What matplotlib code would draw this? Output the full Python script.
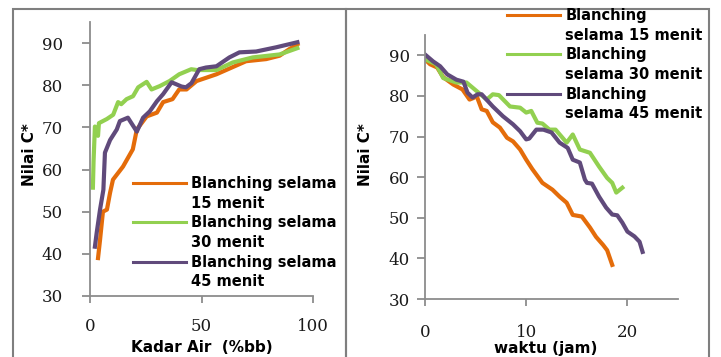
import matplotlib
matplotlib.use("Agg")
import matplotlib.pyplot as plt
from matplotlib.lines import Line2D
from matplotlib.patches import Rectangle

# ---- data: colour value C* against moisture content (%bb) ----
air_15 = [3.6, 4.5, 5.8, 7.6, 9.0, 10.3, 14.8, 19.2, 21.0, 25.4, 30.0, 32.8, 37.0, 40.0, 43.3,
          47.8, 56.7, 64.0, 70.0, 79.0, 85.0, 89.5, 93.0]
c_air_15 = [39.0, 43.3, 50.0, 50.5, 54.5, 57.6, 60.7, 64.8, 69.5, 72.6, 73.5, 76.0, 76.7, 79.0, 79.0,
            81.0, 82.6, 84.3, 85.7, 86.2, 87.0, 88.6, 89.7]

air_30 = [1.3, 1.6, 2.2, 3.6, 4.0, 7.6, 10.4, 12.6, 14.0, 16.4, 19.3, 21.6, 25.4, 27.6, 31.3,
          35.7, 40.0, 45.4, 48.0, 56.7, 64.0, 73.0, 85.0, 93.0]
c_air_30 = [55.7, 62.0, 70.2, 68.0, 71.0, 72.0, 73.0, 76.0, 75.5, 76.7, 77.4, 79.5, 80.8, 79.0, 79.8,
            81.0, 82.6, 83.8, 83.6, 83.6, 85.4, 86.6, 87.3, 88.8]

air_45 = [2.2, 3.0, 4.5, 6.0, 6.7, 9.0, 12.0, 13.4, 17.0, 21.0, 23.8, 26.8, 30.0, 32.8, 36.6,
          41.0, 43.0, 45.5, 49.0, 52.0, 56.7, 62.5, 67.0, 74.5, 83.5, 93.0]
c_air_45 = [41.7, 45.0, 50.5, 55.2, 64.0, 67.0, 69.5, 71.5, 72.3, 69.0, 72.3, 73.8, 76.2, 77.9, 80.7,
            79.7, 79.5, 80.5, 83.8, 84.2, 84.5, 86.6, 87.8, 88.0, 89.0, 90.2]

# ---- data: colour value C* against drying time (jam) ----
t_15 = [0.0, 0.5, 1.2, 1.8, 2.8, 3.7, 4.4, 4.8, 5.1, 5.6, 6.1, 6.7, 7.4, 8.1, 8.7, 9.4, 10.0,
        10.6, 11.6, 12.6, 13.3, 14.0, 14.6, 15.5, 16.3, 16.9, 17.6, 18.0, 18.5]
c_t_15 = [89.0, 87.8, 87.0, 84.6, 82.8, 81.6, 79.1, 79.5, 80.0, 76.7, 76.3, 73.5, 72.2, 69.7, 68.8,
          66.8, 64.3, 62.0, 58.6, 56.9, 55.2, 53.7, 50.7, 50.3, 47.6, 45.3, 43.3, 42.0, 38.4]

t_30 = [0.0, 1.1, 1.8, 3.1, 4.1, 5.1, 6.1, 6.7, 7.3, 8.4, 9.4, 10.0, 10.5, 11.1, 11.6, 12.3, 12.9,
        14.0, 14.6, 15.3, 16.3, 17.2, 18.0, 18.5, 18.9, 19.5]
c_t_30 = [89.0, 87.8, 84.4, 83.3, 83.3, 81.2, 79.1, 80.4, 80.2, 77.4, 77.1, 75.9, 76.3, 73.4, 73.2,
          71.7, 71.7, 68.5, 70.5, 66.8, 66.0, 62.6, 59.8, 58.6, 56.2, 57.4]

t_45 = [0.0, 0.8, 1.5, 2.2, 3.1, 3.8, 4.2, 4.7, 5.2, 5.6, 6.7, 7.7, 8.7, 9.4, 10.0, 10.3, 11.0,
        11.7, 12.5, 13.3, 14.1, 14.6, 15.3, 15.8, 16.0, 16.5, 17.2, 17.9, 18.5, 19.0, 19.5, 20.0,
        20.7, 21.2, 21.5]
c_t_45 = [90.2, 88.5, 87.3, 85.3, 84.0, 83.5, 80.8, 79.6, 80.4, 80.4, 77.4, 75.0, 73.0, 71.3, 69.3,
          69.5, 71.7, 71.7, 71.0, 68.5, 67.2, 64.3, 63.6, 59.4, 58.6, 58.4, 55.2, 52.5, 50.8, 50.6,
          48.8, 46.6, 45.4, 44.1, 41.6]

air_ticks = [0, 50, 100]
time_ticks = [0, 10, 20]
c_ticks = [30, 40, 50, 60, 70, 80, 90]

left_labels = ["Blanching selama", "15 menit", "Blanching selama", "30 menit",
               "Blanching selama", "45 menit"]
right_labels = ["Blanching", "selama 15 menit", "Blanching", "selama 30 menit",
                "Blanching", "selama 45 menit"]

ORANGE = "#E46C0A"
GREEN = "#92D050"
PURPLE = "#604A7B"
SPINE = "#8C8C8C"
W, H = 721, 357

fig = plt.figure(figsize=(W / 100, H / 100), dpi=100)


def fx(px):
    return px / W


def fy(py):
    return 1 - py / H


# panel frames
for x0, x1 in [(13, 346), (346, 709)]:
    fig.add_artist(Rectangle((fx(x0), fy(H + 5)), fx(x1) - fx(x0), fy(9) - fy(H + 5),
                             transform=fig.transFigure, fill=False, edgecolor="#7F7F7F",
                             linewidth=1.5))

# axes boxes: (left, bottom, right, top) in pixels
box1 = (90, 296, 313, 22)
box2 = (425, 299, 678, 35)
ax1 = fig.add_axes([fx(box1[0]), fy(box1[1]), fx(box1[2]) - fx(box1[0]), fy(box1[3]) - fy(box1[1])])
ax2 = fig.add_axes([fx(box2[0]), fy(box2[1]), fx(box2[2]) - fx(box2[0]), fy(box2[3]) - fy(box2[1])])

lw = 3.0
ax1.plot(air_15, c_air_15, color=ORANGE, lw=lw, solid_joinstyle="round")
ax1.plot(air_30, c_air_30, color=GREEN, lw=lw, solid_joinstyle="round")
ax1.plot(air_45, c_air_45, color=PURPLE, lw=lw, solid_joinstyle="round")

ax2.plot(t_15, c_t_15, color=ORANGE, lw=lw, solid_joinstyle="round")
ax2.plot(t_30, c_t_30, color=GREEN, lw=lw, solid_joinstyle="round")
ax2.plot(t_45, c_t_45, color=PURPLE, lw=lw, solid_joinstyle="round")

label_font = dict(family="DejaVu Sans", size=11, weight="bold")

for ax, xt, xlim, xpad, ypad in [(ax1, air_ticks, (0, 100), 11, 13.5),
                                 (ax2, time_ticks, (0, 25), 13, 5)]:
    ax.set_xlim(*xlim)
    ax.set_ylim(30, 95)
    ax.set_xticks(xt)
    ax.set_yticks(c_ticks)
    for s in ["top", "right"]:
        ax.spines[s].set_visible(False)
    for s in ["left", "bottom"]:
        ax.spines[s].set_color(SPINE)
        ax.spines[s].set_linewidth(1.3)
    ax.xaxis.set_tick_params(color=SPINE, width=1.3, direction="out", length=5, pad=xpad,
                             labelsize=12, labelcolor="#1a1a1a", labelfontfamily="DejaVu Serif")
    ax.yaxis.set_tick_params(color=SPINE, width=1.3, direction="out", length=6, pad=ypad,
                             labelsize=12, labelcolor="#1a1a1a", labelfontfamily="DejaVu Serif")
    ax.set_facecolor("none")


def px_to_axes(box, px, py):
    x0, y0, x1, y1 = box
    return (px - x0) / (x1 - x0), (y0 - py) / (y0 - y1)


ax1.set_xlabel("Kadar Air  (%bb)", fontdict=label_font)
ax2.set_xlabel("waktu (jam)", fontdict=label_font)
ax1.set_ylabel("Nilai C*", fontdict=label_font)
ax2.set_ylabel("Nilai C*", fontdict=label_font)
for ax in (ax1, ax2):
    ax.xaxis.label.set_va("center")
    ax.yaxis.label.set_va("center")
ax1.xaxis.set_label_coords(*px_to_axes(box1, 202, 347))
ax2.xaxis.set_label_coords(*px_to_axes(box2, 546, 348))
ax1.yaxis.set_label_coords(*px_to_axes(box1, 30, 155))
ax2.yaxis.set_label_coords(*px_to_axes(box2, 366, 155))


def legend_handles():
    blank = Line2D([], [], color="none")
    return [Line2D([], [], color=ORANGE, lw=2.2), blank,
            Line2D([], [], color=GREEN, lw=2.2), blank,
            Line2D([], [], color=PURPLE, lw=2.2), blank]


leg_font = dict(family="DejaVu Sans", size=10.5, weight="bold")
for labels, x_px, y_px in [(left_labels, 133, 176), (right_labels, 507, 8)]:
    fig.legend(legend_handles(), labels, loc="upper left",
               bbox_to_anchor=(fx(x_px), fy(y_px)), bbox_transform=fig.transFigure,
               frameon=False, borderpad=0, borderaxespad=0, handlelength=3.6,
               handletextpad=0.4, labelspacing=0.32, prop=leg_font)

fig.savefig("out.png", dpi=100)
